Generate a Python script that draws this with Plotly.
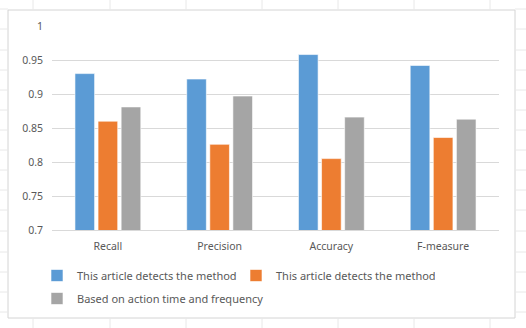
import plotly.graph_objects as go

categories = ["Recall", "Precision", "Accuracy", "F-measure"]
series_names = ["This article detects the method", "This article detects the method",
                "Based on action time and frequency"]
blue_vals = [0.930, 0.922, 0.958, 0.942]
orange_vals = [0.860, 0.826, 0.805, 0.836]
gray_vals = [0.881, 0.897, 0.866, 0.863]
y_ticks = [0.7, 0.75, 0.8, 0.85, 0.9, 0.95, 1.0]
y_tick_labels = ["0.7", "0.75", "0.8", "0.85", "0.9", "0.95", "1"]
colors = ["#5B9BD5", "#ED7D31", "#A5A5A5"]

W, H = 526, 328
ML, MR, MT, MB = 52, 27, 26, 98
PW, PH = W - ML - MR, H - MT - MB

def px_x(px):
    return (px - ML) / PW

def px_y(py):
    return (H - MB - py) / PH

fig = go.Figure()
for vals, name, col, lg in zip([blue_vals, orange_vals, gray_vals], series_names, colors,
                               ["legend", "legend", "legend2"]):
    fig.add_trace(go.Bar(x=categories, y=vals, name=name, marker_color=col,
                         marker_line=dict(color="white", width=0.6), legend=lg))

grid_col = "#D9D9D9"
shapes = []
# chart border
shapes.append(dict(type="rect", xref="paper", yref="paper", x0=px_x(8), x1=px_x(515),
                   y0=px_y(318), y1=px_y(10), line=dict(color="#D4D4D4", width=1),
                   fillcolor="rgba(0,0,0,0)", layer="below"))
# spreadsheet cell lines outside chart
for vx in [33, 110, 186, 262, 338, 414, 490]:
    shapes.append(dict(type="line", xref="paper", yref="paper", x0=px_x(vx), x1=px_x(vx),
                       y0=px_y(0), y1=px_y(10), line=dict(color="#E8E8E8", width=1)))
    shapes.append(dict(type="line", xref="paper", yref="paper", x0=px_x(vx), x1=px_x(vx),
                       y0=px_y(318), y1=px_y(328), line=dict(color="#E8E8E8", width=1)))
for hy in [9, 29, 50, 70, 90, 110, 130, 150, 170, 190, 210, 231, 252, 272, 292, 312]:
    shapes.append(dict(type="line", xref="paper", yref="paper", x0=px_x(0), x1=px_x(8),
                       y0=px_y(hy), y1=px_y(hy), line=dict(color="#E8E8E8", width=1)))
    shapes.append(dict(type="line", xref="paper", yref="paper", x0=px_x(515), x1=px_x(526),
                       y0=px_y(hy), y1=px_y(hy), line=dict(color="#E8E8E8", width=1)))

font_fam = "Noto Sans, Open Sans, sans-serif"
fig.update_layout(
    width=W, height=H,
    margin=dict(l=ML, r=MR, t=MT, b=MB),
    paper_bgcolor="white", plot_bgcolor="white",
    font=dict(family=font_fam, size=10.5, color="#595959"),
    barmode="group", bargap=0.38, bargroupgap=0.15,
    shapes=shapes,
    xaxis=dict(showgrid=False, showline=True, linecolor=grid_col, linewidth=1,
               ticks="", tickfont=dict(size=10.5, color="#595959"), ticklabelstandoff=6),
    yaxis=dict(range=[0.7, 1.0], tickvals=y_ticks, ticktext=y_tick_labels,
               showgrid=True, gridcolor=grid_col, gridwidth=1, zeroline=False,
               showline=False, ticks="", ticklabelstandoff=8,
               tickfont=dict(size=10.5, color="#595959")),
    legend=dict(orientation="h", x=px_x(37), y=px_y(261), xanchor="left", yanchor="top",
                entrywidth=154, entrywidthmode="pixels", bgcolor="rgba(0,0,0,0)",
                font=dict(size=11, color="#595959"), itemwidth=30),
    legend2=dict(orientation="h", x=px_x(37), y=px_y(284), xanchor="left", yanchor="top",
                 bgcolor="rgba(0,0,0,0)", font=dict(size=11, color="#595959"), itemwidth=30),
)

fig.write_html("out.html")
